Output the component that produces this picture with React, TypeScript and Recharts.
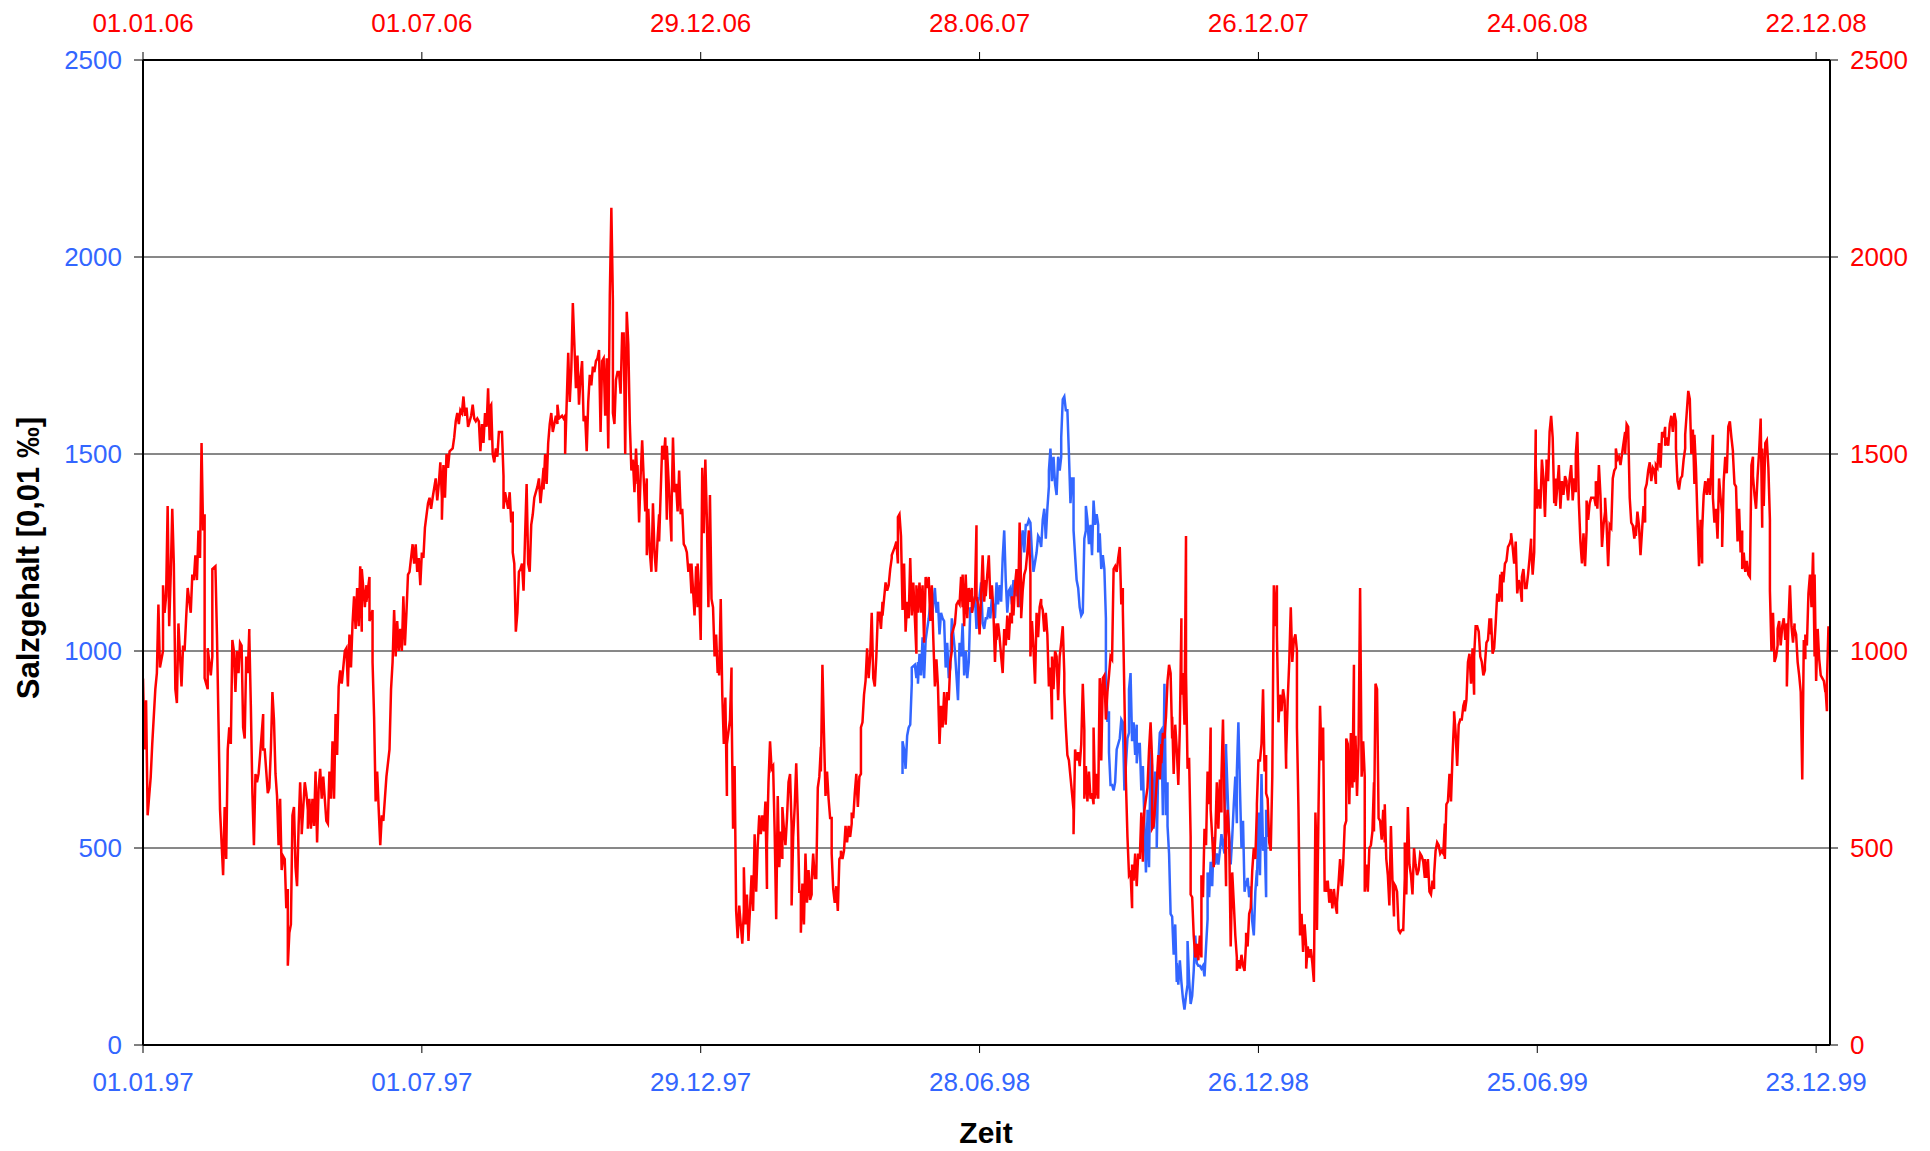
import { LineChart, Line, XAxis, YAxis, CartesianGrid } from 'recharts';

// x positions are days since the first tick (01.01.97 bottom / 01.01.06 top)
const tickDays = [0, 181, 362, 543, 724, 905, 1086];
const bottomTickLabels = ['01.01.97', '01.07.97', '29.12.97', '28.06.98', '26.12.98', '25.06.99', '23.12.99'];
const topTickLabels = ['01.01.06', '01.07.06', '29.12.06', '28.06.07', '26.12.07', '24.06.08', '22.12.08'];
const yTicks = [0, 500, 1000, 1500, 2000, 2500];

// red series (top / right axis), [day, Salzgehalt]
const red2006: [number, number][] = [
  [0, 930], [1, 750], [2, 875], [3, 583], [5, 680], [6, 764], [8, 903], [9, 944], [10, 1118], [11, 958],
  [13, 1000], [13, 1167], [14, 1097], [15, 1139], [16, 1368], [17, 1063], [18, 1194], [19, 1361], [20, 1222], [21, 903],
  [22, 868], [23, 1070], [25, 910], [26, 1014], [27, 1000], [28, 1083], [29, 1160], [31, 1097], [32, 1194], [33, 1180],
  [34, 1243], [35, 1180], [36, 1306], [37, 1236], [38, 1528], [39, 1306], [40, 1347], [40, 931], [42, 903], [42, 1007],
  [44, 938], [45, 986], [45, 1208], [47, 1215], [48, 1042], [49, 820], [50, 597], [52, 431], [53, 604], [54, 472],
  [55, 750], [56, 806], [57, 764], [58, 1028], [59, 1000], [60, 896], [61, 1000], [62, 944], [63, 1021], [64, 1014],
  [65, 806], [66, 778], [67, 986], [68, 944], [69, 1056], [69, 1042], [70, 861], [71, 639], [72, 507], [73, 688],
  [74, 667], [75, 688], [76, 736], [78, 840], [78, 750], [79, 750], [81, 639], [82, 653], [83, 750], [84, 896],
  [85, 826], [86, 688], [87, 632], [88, 507], [89, 625], [90, 444], [91, 479], [92, 472], [93, 347], [94, 396],
  [94, 201], [95, 285], [96, 306], [97, 583], [98, 604], [99, 451], [100, 403], [101, 556], [102, 667], [103, 556],
  [103, 535], [105, 667], [106, 639], [107, 597], [107, 549], [108, 625], [109, 549], [110, 625], [111, 556], [112, 694],
  [113, 514], [114, 653], [115, 701], [116, 625], [117, 681], [118, 625], [119, 569], [120, 562], [121, 694], [122, 625],
  [123, 771], [124, 625], [125, 840], [126, 736], [127, 910], [128, 951], [129, 917], [130, 958], [131, 1000], [132, 1007],
  [133, 910], [134, 1042], [135, 958], [136, 1070], [137, 1139], [138, 1056], [139, 1160], [140, 1063], [141, 1215], [142, 1049],
  [142, 1208], [144, 1111], [145, 1167], [145, 1125], [147, 1188], [147, 1076], [149, 1104], [149, 972], [150, 833], [151, 618],
  [152, 694], [153, 597], [154, 507], [155, 583], [156, 569], [157, 625], [158, 681],
  [160, 750], [161, 903], [162, 972], [163, 1104], [164, 986], [165, 1076], [166, 1000], [167, 1056], [168, 1000], [169, 1139],
  [170, 1014], [171, 1097], [172, 1194], [173, 1201], [175, 1271], [176, 1222], [177, 1271], [178, 1201], [179, 1236], [180, 1167],
  [181, 1250], [182, 1236], [183, 1313], [185, 1375], [186, 1389], [187, 1361], [188, 1389], [190, 1438], [191, 1382], [192, 1424],
  [193, 1479], [194, 1389], [194, 1333], [195, 1472], [196, 1389], [197, 1500], [198, 1465], [199, 1507], [201, 1514], [202, 1542],
  [203, 1583], [204, 1604], [205, 1576], [206, 1611], [207, 1604], [208, 1646], [209, 1597], [210, 1618], [211, 1569], [212, 1583],
  [213, 1597], [214, 1625], [215, 1590], [216, 1583], [217, 1590], [218, 1583], [219, 1507], [220, 1576], [221, 1528], [222, 1604],
  [223, 1569], [224, 1667], [225, 1535], [225, 1618], [226, 1625], [227, 1500], [228, 1479], [229, 1514], [230, 1493], [231, 1556],
  [233, 1556], [234, 1444], [234, 1361], [235, 1403], [237, 1361], [238, 1403], [239, 1326], [240, 1354], [240, 1250], [241, 1222],
  [242, 1049], [243, 1097], [244, 1201], [245, 1208], [246, 1222], [247, 1153], [248, 1292], [249, 1424], [250, 1222], [251, 1201],
  [252, 1320], [253, 1347], [254, 1389], [256, 1417], [257, 1438], [258, 1375], [259, 1417], [260, 1465], [260, 1410], [261, 1500],
  [262, 1424], [263, 1528], [264, 1576], [265, 1604], [266, 1556], [267, 1576], [268, 1597], [269, 1576], [269, 1625], [270, 1590],
  [272, 1597], [273, 1590], [274, 1597], [274, 1500], [276, 1757], [277, 1632], [278, 1715], [279, 1883], [280, 1778], [281, 1667],
  [282, 1750], [283, 1625], [284, 1694], [285, 1736], [286, 1583], [287, 1597], [288, 1507], [289, 1632], [290, 1701], [291, 1674],
  [292, 1722], [293, 1708], [294, 1736], [295, 1743], [296, 1764], [297, 1556], [298, 1736], [299, 1743], [300, 1597], [301, 1743],
  [302, 1514], [303, 1903], [304, 2125], [305, 1889], [305, 1604], [306, 1576], [307, 1688], [308, 1708], [309, 1708], [310, 1653],
  [311, 1806], [312, 1806], [313, 1500], [314, 1861], [315, 1778],
  [316, 1576], [317, 1458], [318, 1486], [319, 1403], [320, 1514], [321, 1424], [321, 1472], [322, 1326], [323, 1444], [324, 1535],
  [325, 1438], [326, 1354], [327, 1438], [327, 1243], [328, 1361], [329, 1250], [330, 1201], [331, 1375], [332, 1250], [333, 1201],
  [334, 1285], [335, 1347], [335, 1278], [337, 1521], [338, 1486], [339, 1542], [340, 1333], [340, 1521], [341, 1444], [343, 1278],
  [343, 1347], [344, 1542], [345, 1403], [346, 1424], [347, 1354], [348, 1458], [349, 1347], [350, 1361], [351, 1271], [352, 1264],
  [353, 1250], [354, 1201], [355, 1222], [356, 1146], [356, 1222], [358, 1090], [359, 1215], [360, 1111], [360, 1222], [361, 1153],
  [362, 1028], [363, 1465], [364, 1299],
];

const red2007: [number, number][] = [
  [365, 1486], [366, 1333], [367, 1111], [368, 1396], [369, 1132], [370, 1111], [371, 986], [372, 1042], [373, 944], [373, 979],
  [374, 938], [375, 1132], [376, 889], [377, 764], [378, 882], [379, 632], [379, 764], [381, 826], [382, 958], [382, 875],
  [383, 549], [384, 708], [385, 340], [386, 271], [387, 354], [389, 257], [390, 340], [390, 451], [391, 306], [392, 382],
  [393, 264], [394, 347], [395, 431], [396, 340], [397, 535], [398, 389], [399, 507], [400, 583], [401, 535], [402, 583],
  [403, 542], [404, 618], [405, 396], [405, 507], [406, 667], [407, 771], [408, 701], [409, 708], [410, 542], [411, 319],
  [412, 632], [413, 451], [414, 542], [415, 472], [415, 604], [416, 549], [417, 507], [418, 576], [419, 667], [420, 688],
  [421, 556], [421, 354], [422, 528], [423, 604], [424, 715], [425, 583], [426, 389], [427, 389], [427, 285], [428, 410],
  [429, 306], [430, 486], [431, 361], [432, 444], [433, 368], [434, 382], [434, 417], [435, 486], [436, 424], [437, 424],
  [438, 653], [439, 681], [440, 757], [440, 694], [441, 965], [442, 792], [443, 632], [444, 694], [445, 625], [446, 576],
  [447, 576], [447, 486], [448, 396], [449, 361], [450, 403], [451, 340], [452, 472], [453, 479], [453, 493], [454, 472],
  [455, 493], [456, 556], [457, 514], [458, 556], [459, 528], [460, 562], [460, 590], [461, 576], [462, 639], [463, 688],
  [464, 604], [465, 681], [466, 688], [466, 806], [467, 819], [468, 889], [469, 924], [470, 1007], [471, 931], [472, 986],
  [473, 1097], [474, 931], [475, 910], [476, 986], [477, 1097], [478, 1097], [479, 1056], [480, 1125], [480, 1090], [481, 1132],
  [482, 1174], [483, 1153], [484, 1167], [485, 1208], [486, 1236], [486, 1243], [488, 1264], [489, 1278], [490, 1222], [490, 1340],
  [491, 1347], [492, 1292], [493, 1104], [494, 1222], [495, 1049], [496, 1125], [497, 1083], [498, 1236], [499, 1090], [500, 1174],
  [501, 1083], [502, 993], [502, 1167], [503, 1097], [504, 1174], [505, 1097], [506, 1167], [507, 1021], [508, 1188], [509, 1160],
  [510, 1188], [511, 1076], [512, 1167], [513, 1028], [514, 910], [515, 979], [516, 910], [517, 764], [518, 861], [519, 806],
  [520, 896], [521, 813], [522, 896], [523, 875], [524, 972], [525, 1000], [525, 1042], [527, 1070], [528, 1118], [529, 1125],
  [530, 1118], [531, 1188], [532, 1111], [532, 1194], [533, 1063], [534, 1194], [535, 1083], [536, 1160], [537, 1125], [538, 1160],
  [538, 1097], [540, 1139], [541, 1319], [541, 1139], [542, 1118], [543, 1042], [544, 1139], [545, 1243], [546, 1125], [547, 1180],
  [547, 1139], [548, 1194], [549, 1243], [550, 1132], [551, 1167], [552, 1097], [553, 972], [554, 1070], [554, 1028], [555, 1070],
  [556, 1035], [557, 986], [558, 944], [559, 1056], [560, 1014], [561, 1090], [562, 1028], [563, 1097], [564, 1070], [564, 1139],
  [565, 1090], [566, 1167], [567, 1208], [568, 1111], [569, 1326], [570, 1153], [570, 1083], [571, 1153], [572, 1194], [573, 1208],
  [574, 1250], [575, 1306], [576, 1194], [576, 986], [577, 1076], [578, 1007], [579, 917], [580, 1097], [581, 1035], [582, 1111],
  [583, 1132], [583, 1118], [584, 1104], [585, 1049], [586, 1097], [587, 1042], [588, 910], [589, 958], [590, 826], [590, 986],
  [591, 903], [592, 1000], [593, 986], [594, 875], [595, 986], [596, 1021], [597, 1063], [598, 944], [598, 896], [599, 806],
  [600, 736], [601, 722], [602, 681], [603, 639], [604, 597], [604, 535], [605, 750], [606, 722], [607, 743], [608, 708],
  [609, 764], [610, 917], [611, 799], [611, 625], [612, 708], [613, 618], [614, 694], [615, 625], [616, 639], [617, 611],
  [617, 806], [618, 625], [619, 688], [620, 625], [621, 931], [622, 875], [622, 722], [623, 931], [624, 938], [625, 826],
  [626, 896], [627, 938], [628, 986],
  [629, 979], [630, 1208], [631, 1215], [632, 1201], [633, 1236], [634, 1264], [635, 1118], [636, 1160], [636, 1104], [637, 889],
  [638, 667], [639, 528], [640, 431], [641, 438], [642, 347], [642, 458], [643, 417], [644, 486], [645, 403], [646, 486],
  [647, 472], [648, 590], [649, 465], [649, 528], [650, 597], [652, 653], [653, 750], [654, 819], [655, 722], [655, 549],
  [656, 556], [657, 611], [658, 667], [659, 736], [660, 674], [661, 764], [661, 715], [662, 792], [663, 778], [664, 833],
  [665, 924], [666, 965], [667, 944], [668, 778], [668, 833], [669, 688], [670, 813], [671, 750], [672, 660], [673, 806],
  [674, 1083], [674, 889], [675, 944], [676, 813], [677, 1292], [677, 944], [678, 701], [679, 729], [680, 528], [680, 382],
  [681, 375], [682, 278], [683, 222], [684, 257], [685, 215], [686, 278], [687, 222], [687, 431], [688, 375], [689, 549],
  [690, 507], [691, 694], [692, 611], [693, 806], [693, 597], [694, 528], [695, 451], [696, 528], [697, 667], [698, 549],
  [699, 674], [700, 590], [700, 681], [701, 826], [702, 597], [703, 403], [703, 528], [704, 597], [705, 528], [706, 250],
  [707, 438], [708, 361], [709, 278], [710, 222], [710, 188], [711, 215], [712, 194], [713, 229], [714, 201], [715, 188],
  [716, 264], [716, 285], [717, 250], [718, 333], [719, 347], [720, 444], [721, 500], [722, 472], [723, 597], [723, 611],
  [724, 722], [725, 722], [726, 764], [727, 903], [728, 694], [729, 736], [729, 639],
];

const red2008: [number, number][] = [
  [730, 625], [731, 514], [732, 493], [733, 681], [734, 1167], [735, 1063], [736, 1167], [736, 1042], [737, 819], [738, 889],
  [739, 847], [740, 903], [741, 875], [742, 701], [742, 736], [743, 875], [744, 972], [745, 1111], [746, 972], [747, 1028],
  [748, 1042], [749, 1000], [749, 806], [750, 597], [751, 278], [752, 333], [753, 236], [754, 306], [755, 250], [755, 194],
  [756, 250], [757, 222], [758, 243], [759, 208], [760, 160], [761, 590], [762, 431], [762, 292], [763, 597], [764, 861],
  [765, 722], [766, 806], [767, 389], [768, 417], [768, 389], [769, 417], [770, 361], [771, 396], [772, 347], [773, 396],
  [774, 354], [775, 333], [775, 361], [776, 410], [777, 472], [778, 403], [779, 458], [780, 556], [781, 569], [781, 778],
  [782, 764], [783, 611], [784, 792],
  [785, 653], [786, 965], [786, 667], [787, 785], [788, 632], [789, 764], [790, 1160], [791, 681], [792, 771], [793, 681],
  [793, 389], [794, 458], [795, 389], [796, 500], [797, 507], [798, 542], [799, 667], [799, 542], [800, 917], [801, 903],
  [802, 576], [803, 569], [804, 521], [805, 597], [806, 514], [806, 611], [807, 472], [808, 431], [809, 354], [810, 556],
  [811, 417], [812, 326], [812, 410], [813, 403], [814, 389], [815, 292], [816, 285], [817, 292], [818, 292], [819, 424],
  [819, 514], [820, 382], [821, 604], [822, 458], [823, 431], [824, 382], [825, 500], [825, 500], [826, 458], [827, 431],
  [828, 444], [829, 486], [830, 479], [831, 465], [832, 424], [832, 472], [833, 424], [834, 472], [835, 389], [836, 382],
  [837, 417], [838, 396], [838, 431], [839, 493], [840, 514], [841, 507], [842, 486], [843, 493], [844, 486], [845, 562],
  [845, 472], [846, 611], [847, 618], [848, 688], [849, 618], [850, 736], [851, 826], [851, 847], [852, 792], [853, 708],
  [854, 813], [855, 826], [856, 826], [857, 861], [858, 875], [858, 847], [859, 875], [860, 972], [861, 993], [862, 917],
  [863, 1007], [864, 889], [864, 986], [865, 1063], [866, 1063], [867, 1049], [868, 986], [869, 972], [870, 938], [871, 951],
  [871, 965], [872, 1021], [873, 1028], [874, 1083], [875, 1042], [875, 1083], [876, 993], [877, 1007], [878, 1070], [879, 1146],
  [880, 1125], [881, 1194], [882, 1125], [882, 1201], [883, 1174], [884, 1222], [885, 1229], [886, 1264], [887, 1271], [888, 1285],
  [888, 1299], [889, 1264], [890, 1222], [891, 1278], [892, 1146], [893, 1180], [894, 1160], [895, 1125], [895, 1188], [896, 1208],
  [897, 1160], [898, 1160], [899, 1194], [900, 1236], [901, 1285], [901, 1271], [902, 1194], [903, 1250], [904, 1562], [904, 1472],
  [905, 1361], [906, 1410], [907, 1361], [908, 1486], [909, 1438], [910, 1340], [911, 1472], [911, 1486], [912, 1431], [913, 1556],
  [914, 1597], [915, 1542], [916, 1375], [917, 1438], [917, 1368], [918, 1417], [919, 1472], [920, 1361], [921, 1431], [922, 1396],
  [923, 1444], [924, 1431], [924, 1424], [925, 1382], [926, 1438], [927, 1472], [928, 1382], [929, 1438], [930, 1403], [930, 1500],
  [931, 1556], [932, 1375], [933, 1278], [934, 1222], [935, 1299], [936, 1215], [937, 1306], [937, 1382], [938, 1333], [939, 1375],
  [940, 1389],
  [942, 1389], [943, 1368], [943, 1431], [944, 1361], [945, 1472], [946, 1396], [947, 1264], [948, 1320], [949, 1354], [949, 1389],
  [950, 1320], [951, 1215], [952, 1320], [953, 1313], [954, 1438], [955, 1458], [956, 1465], [956, 1514], [957, 1486], [958, 1493],
  [959, 1472], [960, 1500], [961, 1528], [962, 1556], [962, 1500], [963, 1576], [964, 1569], [965, 1389], [966, 1326], [967, 1319],
  [968, 1285], [969, 1319], [969, 1292], [970, 1354], [971, 1319], [972, 1243], [973, 1306], [974, 1368], [975, 1326], [975, 1410],
  [976, 1424], [977, 1458], [978, 1479], [979, 1431], [980, 1465], [981, 1458], [982, 1424], [982, 1472], [983, 1465], [984, 1528],
  [985, 1465], [986, 1556], [987, 1542], [988, 1569], [988, 1521], [989, 1542], [990, 1521], [991, 1576], [992, 1597], [993, 1556],
  [994, 1604], [995, 1583], [995, 1514], [996, 1431], [997, 1410], [998, 1438], [999, 1444], [1000, 1486], [1001, 1514], [1001, 1549],
  [1002, 1604], [1003, 1660], [1004, 1639], [1005, 1500], [1006, 1562], [1007, 1424], [1007, 1549], [1008, 1465], [1009, 1333], [1010, 1215],
  [1011, 1333], [1012, 1222], [1012, 1306], [1013, 1396], [1014, 1431], [1015, 1396], [1016, 1438], [1017, 1396], [1018, 1465], [1019, 1549],
  [1019, 1389], [1020, 1326], [1021, 1361], [1022, 1285], [1023, 1438], [1024, 1389], [1025, 1347], [1025, 1264], [1026, 1431], [1027, 1493],
  [1028, 1451], [1029, 1569], [1030, 1583], [1031, 1542], [1032, 1507], [1032, 1500], [1033, 1424], [1034, 1417], [1035, 1278], [1036, 1361],
  [1037, 1250], [1038, 1306], [1038, 1208], [1039, 1250], [1040, 1201], [1041, 1229], [1042, 1194], [1043, 1188], [1044, 1472], [1045, 1493],
  [1045, 1444], [1046, 1396], [1047, 1361], [1048, 1444], [1049, 1507], [1050, 1590], [1051, 1313], [1051, 1514], [1052, 1368], [1053, 1528],
  [1054, 1535], [1055, 1465], [1056, 1333], [1056, 1153], [1057, 1000], [1058, 1097], [1059, 972], [1060, 986], [1061, 1014], [1061, 1056],
  [1062, 1076], [1063, 1014], [1064, 1063], [1065, 1083], [1066, 1028], [1067, 1070], [1067, 910], [1068, 1070], [1069, 1167], [1070, 1063],
  [1071, 1021], [1072, 1070], [1072, 1056], [1073, 1042], [1074, 972], [1075, 938], [1076, 896], [1077, 674], [1078, 1028], [1079, 979],
  [1079, 1042], [1080, 1014], [1081, 1146], [1082, 1194], [1083, 1111], [1084, 1250], [1085, 986], [1085, 1194], [1086, 924], [1087, 1056],
  [1088, 979], [1089, 938], [1090, 931], [1091, 924], [1092, 896], [1092, 910], [1093, 847], [1093, 917], [1094, 1063],
];

// blue series (bottom / left axis), [day, Salzgehalt]
const blue1998: [number, number][] = [
  [493, 688], [493, 771], [494, 750], [495, 701], [496, 785], [497, 806], [498, 813], [499, 917], [499, 958], [501, 965],
  [502, 931], [503, 972], [503, 917], [504, 993], [505, 938], [506, 1035], [507, 931], [508, 1028], [509, 1056], [510, 1083],
  [511, 1118], [512, 1083], [514, 1160], [515, 1097], [516, 1125], [517, 1042], [518, 1097], [519, 1083], [520, 1076], [521, 958],
  [522, 1021], [523, 931], [524, 958], [525, 1083], [527, 1000], [528, 938], [529, 875], [530, 1021], [531, 986], [532, 1070],
  [533, 938], [534, 1000], [535, 931], [536, 972], [537, 1111], [538, 1097], [540, 1139], [541, 1056], [542, 1125], [543, 1139],
  [544, 1174], [545, 1070], [546, 1056], [547, 1083], [548, 1083], [549, 1111], [550, 1083], [551, 1139], [553, 1083], [554, 1174],
  [555, 1118], [556, 1167], [557, 1125], [558, 1236], [559, 1306], [560, 1180], [561, 1097], [562, 1153], [563, 1160], [564, 1118],
  [565, 1180], [567, 1139], [568, 1194], [569, 1111], [570, 1271], [571, 1306], [572, 1250], [573, 1320], [574, 1320], [575, 1333],
  [576, 1326], [577, 1250], [578, 1201], [580, 1250], [581, 1292], [582, 1285], [583, 1264], [584, 1333], [585, 1361], [586, 1285],
  [587, 1361], [588, 1417], [588, 1458], [589, 1514], [590, 1431], [591, 1493], [592, 1424], [593, 1396], [594, 1493], [595, 1458],
  [596, 1493], [596, 1542], [597, 1639], [598, 1646], [599, 1611], [600, 1611], [601, 1500], [602, 1375], [603, 1438], [604, 1438],
  [604, 1306], [606, 1180], [607, 1160], [608, 1111], [609, 1090], [610, 1097], [611, 1285], [612, 1306], [612, 1368], [613, 1333],
  [614, 1271], [615, 1320], [616, 1243], [617, 1382], [618, 1320], [619, 1347], [620, 1320], [620, 1250], [621, 1299], [622, 1208],
  [623, 1243], [624, 1208], [625, 1083], [625, 944], [626, 820], [627, 847], [627, 743], [628, 660],
  [629, 660], [630, 646], [631, 667], [632, 750], [633, 764], [634, 778], [635, 826], [636, 819], [637, 646], [639, 778],
  [640, 792], [640, 903], [641, 944], [642, 771], [643, 819], [644, 736], [645, 813], [645, 715], [646, 764], [647, 764],
  [648, 646], [649, 708], [650, 563], [651, 438], [652, 583], [652, 597], [653, 451], [654, 750], [655, 708], [656, 549],
  [657, 694], [658, 569], [658, 500], [659, 715], [660, 792], [661, 799], [662, 583], [663, 917], [664, 583], [665, 667],
  [665, 556], [666, 486], [667, 333], [668, 326], [669, 229], [670, 306], [671, 160], [671, 208], [672, 153], [673, 215],
  [674, 160], [675, 118], [676, 90], [677, 125], [678, 153], [678, 264], [679, 167], [680, 104], [681, 125], [682, 188],
  [683, 278], [684, 208], [684, 208], [685, 201], [686, 201], [687, 194], [688, 201], [689, 174], [690, 250], [691, 319],
  [691, 438], [692, 375], [693, 465], [694, 403], [695, 528], [696, 458], [697, 486], [697, 486], [698, 458], [699, 493],
  [700, 535], [701, 507], [702, 486], [703, 764], [703, 750], [704, 639], [705, 528], [706, 458], [707, 528], [708, 611],
  [709, 681], [710, 563], [710, 694], [711, 819], [712, 653], [713, 500], [714, 569], [715, 389], [716, 417], [716, 403],
  [717, 424], [718, 375], [719, 403], [720, 313], [721, 278], [722, 389], [723, 444], [723, 403], [724, 590], [725, 431],
  [726, 688], [727, 493], [728, 528], [729, 375], [729, 597], [730, 528],
];

const BLUE = '#3366FF';
const RED = '#FF0000';
const FONT = '"Liberation Sans", Arial, Helvetica, sans-serif';

const toPoints = (rows: [number, number][]) => rows.map(([day, value]) => ({ day, value }));
const redData = toPoints([...red2006, ...red2007, ...red2008]);
const blueData = toPoints(blue1998);

const labelFor = (labels: string[]) => (v: number) => {
  const i = tickDays.indexOf(v);
  return i >= 0 ? labels[i] : '';
};

export default function App() {
  return (
    <div style={{ position: 'absolute', left: 0, top: 0, width: 1930, height: 1151, background: '#fff', fontFamily: FONT }}>
      <LineChart width={1930} height={1151} margin={{ top: 0, right: 0, bottom: 0, left: 0 }}>
        <CartesianGrid xAxisId="bottom" yAxisId="left" vertical={false} stroke="#111" strokeWidth={1} />
        <XAxis
          xAxisId="bottom"
          type="number"
          dataKey="day"
          domain={[0, 1095]}
          allowDataOverflow
          ticks={tickDays}
          interval={0}
          height={106}
          tickSize={8}
          tickMargin={20}
          stroke="#000"
          axisLine={{ stroke: '#000', strokeWidth: 2 }}
          tick={{ fill: BLUE, fontSize: 26, fontFamily: FONT }}
          tickFormatter={labelFor(bottomTickLabels)}
        />
        <XAxis
          xAxisId="top"
          orientation="top"
          type="number"
          dataKey="day"
          domain={[0, 1095]}
          allowDataOverflow
          ticks={tickDays}
          interval={0}
          height={60}
          tickSize={8}
          tickMargin={20}
          stroke="#000"
          axisLine={{ stroke: '#000', strokeWidth: 2 }}
          tick={{ fill: RED, fontSize: 26, fontFamily: FONT }}
          tickFormatter={labelFor(topTickLabels)}
        />
        <YAxis
          yAxisId="left"
          domain={[0, 2500]}
          ticks={yTicks}
          interval={0}
          width={143}
          tickSize={9}
          tickMargin={12}
          stroke="#000"
          axisLine={{ stroke: '#000', strokeWidth: 2 }}
          tick={{ fill: BLUE, fontSize: 26, fontFamily: FONT }}
        />
        <YAxis
          yAxisId="right"
          orientation="right"
          domain={[0, 2500]}
          ticks={yTicks}
          interval={0}
          width={100}
          tickSize={8}
          tickMargin={12}
          stroke="#000"
          axisLine={{ stroke: '#000', strokeWidth: 2 }}
          tick={{ fill: RED, fontSize: 26, fontFamily: FONT }}
        />
        <Line
          xAxisId="bottom"
          yAxisId="left"
          data={blueData}
          dataKey="value"
          type="linear"
          stroke={BLUE}
          strokeWidth={2.5}
          dot={false}
          activeDot={false}
          isAnimationActive={false}
        />
        <Line
          xAxisId="top"
          yAxisId="right"
          data={redData}
          dataKey="value"
          type="linear"
          stroke={RED}
          strokeWidth={2.5}
          dot={false}
          activeDot={false}
          isAnimationActive={false}
        />
      </LineChart>
      <svg width={1930} height={1151} style={{ position: 'absolute', left: 0, top: 0, pointerEvents: 'none' }}>
        <text
          x={39}
          y={558}
          transform="rotate(-90 39 558)"
          textAnchor="middle"
          fontFamily={FONT}
          fontWeight="bold"
          fontSize={31}
          fill="#000"
        >
          Salzgehalt [0,01 ‰]
        </text>
        <text x={986} y={1143} textAnchor="middle" fontFamily={FONT} fontWeight="bold" fontSize={30} fill="#000">
          Zeit
        </text>
      </svg>
    </div>
  );
}
